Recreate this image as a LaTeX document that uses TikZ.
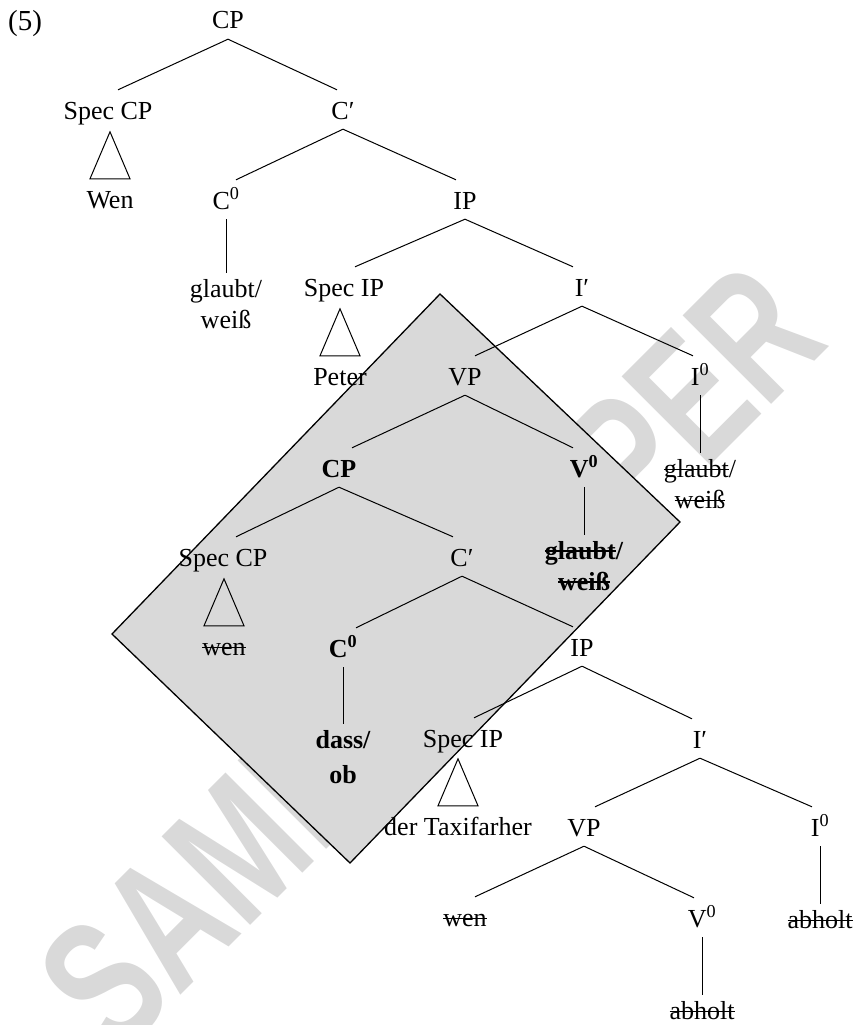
\documentclass[tikz,border=0pt]{standalone}
\usepackage{fontspec}
\setmainfont{Liberation Serif}
\newfontfamily\wmfont{Liberation Sans}
\newsavebox\stkbox
\newcommand\stk[2][1.2pt]{\leavevmode\sbox\stkbox{#2}\rlap{\rule[0.27em]{\wd\stkbox}{#1}}\usebox\stkbox}
\newcommand\tfont{\fontsize{26}{31}\selectfont}
\begin{document}
\begin{tikzpicture}[x=1pt,y=-1pt,
  font=\tfont,
  lab/.style={inner sep=0pt,anchor=base,text height=29pt,text depth=10pt},
  leaf/.style={inner sep=0pt,anchor=north,align=center},
  bl/.style={font=\tfont\bfseries},
  br/.style={line width=1pt},
  wmark/.style={rotate=45,text=black!15,inner sep=0pt,font=\wmfont\bfseries\fontsize{182}{182}\selectfont},
  region/.style={fill=black!15,draw=black,line width=1.3pt,line join=miter}]
\useasboundingbox (0,0) rectangle (856,1025);
% watermark
\node[wmark] (wm) at (430,657) {\scalebox{0.71}[1]{SAMPLE PAPER}};
% shaded region
\draw[region] (440,294) -- (680,522) -- (350,863) -- (112,634) -- cycle;
% nodes
\node[lab,font=\fontsize{29}{31}\selectfont] (n5) at (25,31) {(5)};
\node[lab] (cp) at (228,29) {CP};
\node[lab] (spcp) at (108,119) {Spec CP};
\node[lab] (cb) at (343,119) {C′};
\node[lab] (wen) at (110,208) {Wen};
\node[lab] (c0) at (226,209) {C\textsuperscript{0}};
\node[lab] (ip) at (465,209) {IP};
\node[leaf] (gw) at (226,273) {\rule{0pt}{24pt}glaubt/\\weiß};
\node[lab] (spip) at (344,296) {Spec IP};
\node[lab] (ib) at (582,296) {I′};
\node[lab] (peter) at (340,385) {Peter};
\node[lab] (vp) at (465,385) {VP};
\node[lab] (i0) at (700,385) {I\textsuperscript{0}};
\node[leaf] (gw2) at (700,453) {\rule{0pt}{24pt}\stk{glaubt}/\\\stk{weiß}};
\node[lab,bl] (cpb) at (339,477) {CP};
\node[lab,bl] (v0b) at (584,477) {V\textsuperscript{0}};
\node[leaf,bl] (gw3) at (584,535) {\rule{0pt}{24pt}\stk[1.8pt]{glaubt}/\\\stk[1.8pt]{weiß}};
\node[lab] (spcp2) at (223,566) {Spec CP};
\node[lab] (cb2) at (462,566) {C′};
\node[lab] (wen2) at (224,655) {\stk{wen}};
\node[lab,bl] (c0b) at (343,657) {C\textsuperscript{0}};
\node[lab] (ip2) at (582,656) {IP};
\node[leaf,bl] (dass) at (343,724) {\rule{0pt}{24pt}dass/\\[4pt]ob};
\node[lab] (spip2) at (463,747) {Spec IP};
\node[lab] (ib2) at (700,748) {I′};
\node[lab] (taxi) at (458,835) {der Taxifarher};
\node[lab] (vp3) at (584,836) {VP};
\node[lab] (i02) at (820,836) {I\textsuperscript{0}};
\node[lab] (wen3) at (465,926) {\stk{wen}};
\node[lab] (v02) at (702,927) {V\textsuperscript{0}};
\node[leaf] (ab1) at (820,904) {\rule{0pt}{24pt}\stk{abholt}};
\node[leaf] (ab2) at (702,995) {\rule{0pt}{24pt}\stk{abholt}};
% triangles
\draw[br] ([xshift=-20pt]wen.north) -- ++(20,-47) -- ++(20,47) -- cycle;
\draw[br] ([xshift=-20pt]peter.north) -- ++(20,-47) -- ++(20,47) -- cycle;
\draw[br] ([xshift=-20pt]wen2.north) -- ++(20,-47) -- ++(20,47) -- cycle;
\draw[br] ([xshift=-20pt]taxi.north) -- ++(20,-47) -- ++(20,47) -- cycle;
% branches
\draw[br] (cp.south) -- ([xshift=10pt]spcp.north);
\draw[br] (cp.south) -- ([xshift=-6pt]cb.north);
\draw[br] (cb.south) -- ([xshift=10pt]c0.north);
\draw[br] (cb.south) -- ([xshift=-9pt]ip.north);
\draw[br] (c0.south) -- (gw.north);
\draw[br] (ip.south) -- ([xshift=11pt]spip.north);
\draw[br] (ip.south) -- ([xshift=-9pt]ib.north);
\draw[br] (ib.south) -- ([xshift=10pt]vp.north);
\draw[br] (ib.south) -- ([xshift=-7pt]i0.north);
\draw[br] (i0.south) -- (gw2.north);
\draw[br] (vp.south) -- ([xshift=13pt]cpb.north);
\draw[br] (vp.south) -- ([xshift=-11pt]v0b.north);
\draw[br] (v0b.south) -- (gw3.north);
\draw[br] (cpb.south) -- ([xshift=13pt]spcp2.north);
\draw[br] (cpb.south) -- ([xshift=-9pt]cb2.north);
\draw[br] (cb2.south) -- ([xshift=13pt]c0b.north);
\draw[br] (cb2.south) -- ([xshift=-9pt]ip2.north);
\draw[br] (c0b.south) -- (dass.north);
\draw[br] (ip2.south) -- ([xshift=11pt]spip2.north);
\draw[br] (ip2.south) -- ([xshift=-8pt]ib2.north);
\draw[br] (ib2.south) -- ([xshift=11pt]vp3.north);
\draw[br] (ib2.south) -- ([xshift=-8pt]i02.north);
\draw[br] (i02.south) -- (ab1.north);
\draw[br] (vp3.south) -- ([xshift=10pt]wen3.north);
\draw[br] (vp3.south) -- ([xshift=-8pt]v02.north);
\draw[br] (v02.south) -- (ab2.north);
\end{tikzpicture}
\end{document}
